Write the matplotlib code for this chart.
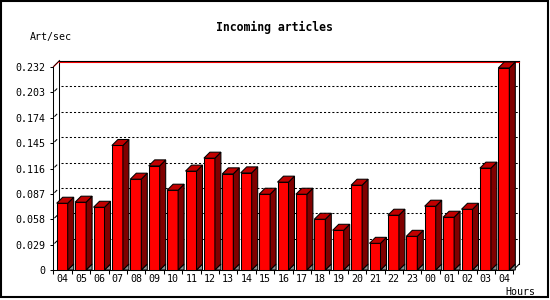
import matplotlib
matplotlib.use("Agg")
import matplotlib.pyplot as plt
from matplotlib.patches import Polygon, Rectangle
import numpy as np

plt.rcParams['font.family'] = ['DejaVu Sans Mono']
plt.rcParams['lines.scale_dashes'] = False

# data
hours = ['04', '05', '06', '07', '08', '09', '10', '11', '12', '13', '14', '15', '16',
         '17', '18', '19', '20', '21', '22', '23', '00', '01', '02', '03', '04']
rate = [0.0763, 0.0775, 0.0717, 0.1423, 0.1038, 0.1190, 0.0912, 0.1130, 0.1278,
        0.1099, 0.1110, 0.0866, 0.1004, 0.0866, 0.0580, 0.0454, 0.0969, 0.0305,
        0.0626, 0.0385, 0.0729, 0.0603, 0.0694, 0.1164, 0.2309]
yticks = [0, 0.029, 0.058, 0.087, 0.116, 0.145, 0.174, 0.203, 0.232]
ymax = 0.232

W, H = 550, 300
fig = plt.figure(figsize=(5.5, 3), dpi=100)
# front plane of the chart, in pixels: x 53..513, y 270..67
L, R, B, T = 53.3, 513.3, 270, 67
ax = fig.add_axes([L / W, 1 - B / H, (R - L) / W, (B - T) / H])
n = len(rate)
ax.set_xlim(0, n)
ax.set_ylim(0, ymax)

# 3d depth: 6 px right, 6 px up
px_x = n / (R - L)
px_y = ymax / (B - T)
dx, dy = 6 * px_x, 6 * px_y

lw = 0.75
for s in ['top', 'right']:
    ax.spines[s].set_visible(False)
for s in ['left', 'bottom']:
    ax.spines[s].set_linewidth(lw)

# back walls
ax.plot([dx, dx], [dy, ymax + dy], color='black', lw=lw, clip_on=False, zorder=1)
ax.plot([n + dx, n + dx], [dy, ymax + dy], color='black', lw=lw, clip_on=False, zorder=1)
ax.plot([n, n + dx], [0, dy], color='black', lw=lw, clip_on=False, zorder=1)
ax.plot([dx, n + dx], [ymax + dy - 1.2 * px_y] * 2, color='red', lw=0.8, clip_on=False, zorder=1)
ax.plot([dx, n + dx], [ymax + dy, ymax + dy], color='black', lw=0.8, clip_on=False, zorder=2)
ax.plot([0, dx], [ymax, ymax + dy], color='red', lw=0.8, clip_on=False, zorder=1)
ax.plot([0.3 * px_x, dx + 0.3 * px_x], [ymax + 0.6 * px_y, ymax + dy + 0.6 * px_y],
        color='black', lw=0.6, clip_on=False, zorder=2)

# dotted grid on the back wall + small marks on the side wall
for v in yticks[1:-1]:
    ax.plot([dx + 2 * px_x, n + dx], [v + dy, v + dy], color='black', lw=lw,
            linestyle=(0, (1.5, 1.5)), clip_on=False, zorder=1)
    ax.plot([1.5 * px_x, 3.5 * px_x], [v + 1.5 * px_y, v + 3.5 * px_y], color='black',
            lw=lw, clip_on=False, zorder=1)

# bars
x0 = np.arange(n) + 3.4 * px_x
bw = 11 * px_x
ax.bar(x0, rate, width=bw, align='edge', color='#ff0000', edgecolor='black',
       linewidth=lw, zorder=3, clip_on=False)
for xs, v in zip(x0, rate):
    x1 = xs + bw
    ax.add_patch(Polygon([(x1, 0), (x1 + dx, dy), (x1 + dx, 0)], closed=True,
                         facecolor='#8c8c8c', edgecolor='black', lw=lw, zorder=2, clip_on=False))
    ax.add_patch(Polygon([(x1, 0), (x1 + dx, dy), (x1 + dx, v + dy), (x1, v)], closed=True,
                         facecolor='#800000', edgecolor='black', lw=lw, zorder=3, clip_on=False))
    ax.add_patch(Polygon([(xs, v), (xs + dx, v + dy), (x1 + dx, v + dy), (x1, v)], closed=True,
                         facecolor='#c00000', edgecolor='black', lw=lw, zorder=3, clip_on=False))

# ticks
ax.set_yticks(yticks)
ax.set_yticklabels(['0' if v == 0 else f'{v:.3f}' for v in yticks], fontsize=7.2)
ax.tick_params(axis='y', length=2.2, width=lw, pad=3.6)
ax.set_xticks(np.arange(n + 1))
ax.set_xticklabels([])
ax.set_xticks(np.arange(n) + 0.5, minor=True)
ax.set_xticklabels(hours, minor=True, fontsize=7.2)
ax.tick_params(axis='x', which='major', length=2.9, width=lw)
ax.tick_params(axis='x', which='minor', length=0, pad=3.2)
ax.patch.set_visible(False)

fig.text(274 / W, 1 - 27 / H, 'Incoming articles', ha='center', va='center',
         fontsize=8.3, fontweight='bold')
fig.text(30 / W, 1 - 37 / H, 'Art/sec', ha='left', va='center', fontsize=7.2)
fig.text(505 / W, 1 - 292 / H, 'Hours', ha='left', va='center', fontsize=7.2)

# image frame
fig.add_artist(Rectangle((0.5 / W, 1 - 297 / H), 547 / W, 296.5 / H, transform=fig.transFigure,
                         fill=False, edgecolor='black', lw=1.5))

fig.savefig('out.png', dpi=100)
